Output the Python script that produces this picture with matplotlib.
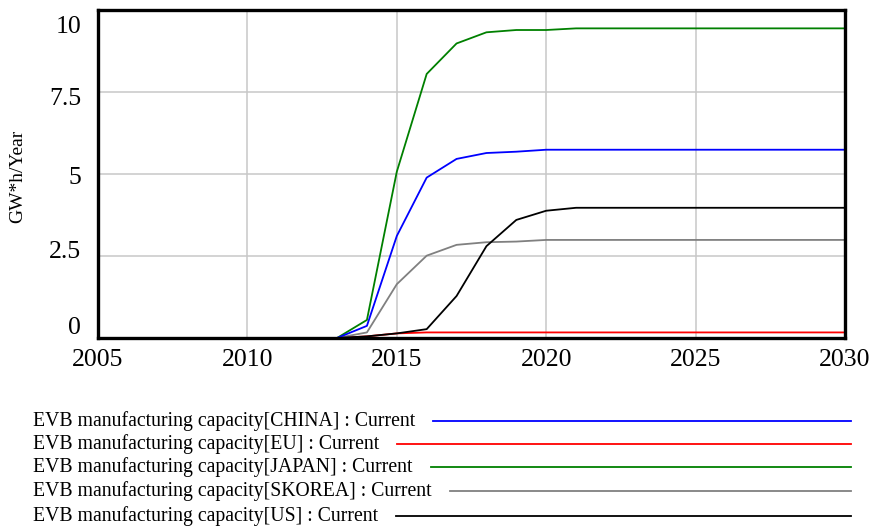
import matplotlib
matplotlib.use('Agg')

import matplotlib.pyplot as plt
from matplotlib.lines import Line2D
from matplotlib.transforms import ScaledTranslation

plt.rcParams['font.family'] = ['Liberation Serif', 'DejaVu Serif']

years = list(range(2005, 2031))

# GW*h/Year, one value per year 2005..2030
china = [0] * 9 + [0.37, 3.11, 4.89, 5.46, 5.64, 5.68, 5.74] + [5.74] * 10
eu = [0] * 9 + [0.05, 0.14, 0.17, 0.17, 0.17, 0.17, 0.17] + [0.17] * 10
japan = [0] * 9 + [0.55, 5.07, 8.05, 8.98, 9.32, 9.39, 9.39] + [9.44] * 10
skorea = [0] * 9 + [0.17, 1.64, 2.51, 2.84, 2.92, 2.94, 2.99] + [2.99] * 10
us = [0] * 9 + [0.05, 0.14, 0.27, 1.28, 2.80, 3.60, 3.88] + [3.97] * 10

labels = ["EVB manufacturing capacity[CHINA] : Current",
          "EVB manufacturing capacity[EU] : Current",
          "EVB manufacturing capacity[JAPAN] : Current",
          "EVB manufacturing capacity[SKOREA] : Current",
          "EVB manufacturing capacity[US] : Current"]
colors = ['#0000ff', '#ff0000', '#008000', '#808080', '#000000']
series = [china, eu, japan, skorea, us]

yticks = [0, 2.5, 5, 7.5, 10]
ytick_labels = ['0', '2.5', '5', '7.5', '10']
xticks = [2005, 2010, 2015, 2020, 2025, 2030]

fig = plt.figure(figsize=(8.73, 5.28), dpi=100)
ax = fig.add_axes([98 / 873, 1 - 338 / 528, 747 / 873, 328 / 528])

zs = [6, 2, 3, 4, 5]
for vals, c, z in zip(series, colors, zs):
    ax.plot(years, vals, color=c, lw=1.3, zorder=z, clip_on=False)

ax.set_xlim(2005, 2030)
ax.set_ylim(0, 10)
ax.set_xticks(xticks)
ax.set_yticks(yticks)
ax.set_yticklabels(ytick_labels)
ax.tick_params(length=0, labelsize=18.5)
ax.tick_params(axis='x', pad=8)
ax.tick_params(axis='y', pad=12)
ax.grid(True, color='#c8c8c8', lw=1.1)
ax.set_axisbelow(True)
for sp in ax.spines.values():
    sp.set_linewidth(2.4)
    sp.set_color('black')
    sp.set_zorder(10)

# value labels sit evenly spaced, not exactly on the grid lines
label_px = [325, 250, 175, 97, 25]
for lab, tick, py in zip(ax.get_yticklabels(), yticks, label_px):
    grid_px = 338 - tick * 32.8
    dy = -(py - grid_px) / 100.0
    lab.set_transform(lab.get_transform() + ScaledTranslation(0, dy, fig.dpi_scale_trans))

fig.text(18 / 873, 1 - 176 / 528, 'GW*h/Year', rotation=90, fontsize=14,
         ha='center', va='center')

# legend rows below the plot
fig.canvas.draw()
renderer = fig.canvas.get_renderer()
row_y = [421, 444, 467, 491, 516]
for lab, c, py in zip(labels, colors, row_y):
    t = fig.text(33 / 873, 1 - py / 528, lab, fontsize=14.2, ha='left', va='center')
    bb = t.get_window_extent(renderer=renderer)
    x0 = (bb.x1 + 18) / 873
    fig.add_artist(Line2D([x0, 851 / 873], [1 - py / 528, 1 - py / 528],
                          color=c, lw=1.3, transform=fig.transFigure))

plt.savefig('out.png', dpi=100)
